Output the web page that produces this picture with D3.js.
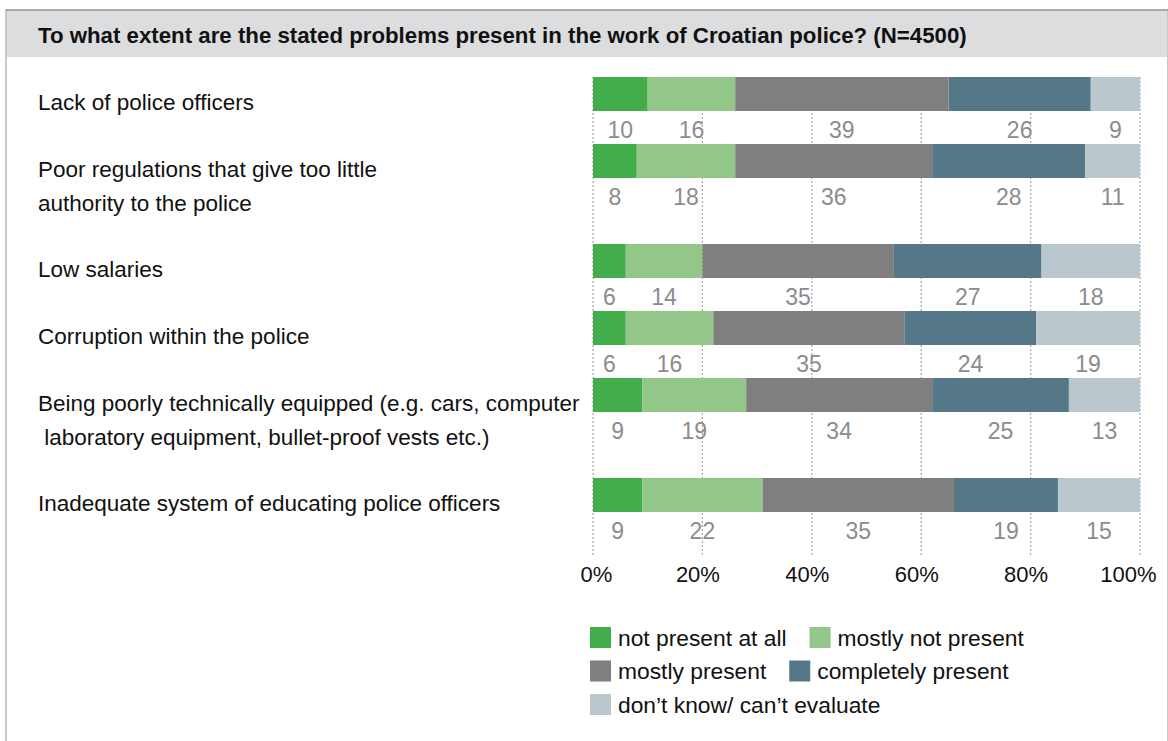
<!DOCTYPE html>
<html><head><meta charset="utf-8">
<script src="https://cdn.jsdelivr.net/npm/d3@7"></script>
<style>
html,body{margin:0;padding:0;background:#fff;}
svg{display:block;font-family:"Liberation Sans",Arial,sans-serif;}
</style></head>
<body>
<svg id="chart" width="1168" height="741"></svg>
<script>
const title = "To what extent are the stated problems present in the work of Croatian police? (N=4500)";
const categories = [
  ["Lack of police officers"],
  ["Poor regulations that give too little", "authority to the police"],
  ["Low salaries"],
  ["Corruption within the police"],
  ["Being poorly technically equipped (e.g. cars, computer", " laboratory equipment, bullet-proof vests etc.)"],
  ["Inadequate system of educating police officers"]
];
const seriesNames = ["not present at all", "mostly not present", "mostly present", "completely present", "don\u2019t know/ can\u2019t evaluate"];
const notPresentAtAll = [10, 8, 6, 6, 9, 9];
const mostlyNotPresent = [16, 18, 14, 16, 19, 22];
const mostlyPresent = [39, 36, 35, 35, 34, 35];
const completelyPresent = [26, 28, 27, 24, 25, 19];
const dontKnow = [9, 11, 18, 19, 13, 15];
const tickValues = [0, 20, 40, 60, 80, 100];
const colors = ["#42ad4a", "#93c689", "#7f7f7f", "#547887", "#bac8cd"];

const series = [notPresentAtAll, mostlyNotPresent, mostlyPresent, completelyPresent, dontKnow];
const rows = categories.map((c, i) => {
  const r = {idx: i};
  seriesNames.forEach((s, j) => r[s] = series[j][i]);
  return r;
});
const stacked = d3.stack().keys(seriesNames)(rows);

const svg = d3.select("#chart");

// frame
svg.append("rect").attr("x", 6).attr("y", 10).attr("width", 1162).attr("height", 760)
  .attr("fill", "#fff").attr("stroke", "#c8c8c8").attr("stroke-width", 2);
svg.append("rect").attr("x", 7).attr("y", 11).attr("width", 1160).attr("height", 46).attr("fill", "#dcdddf");
svg.append("line").attr("x1", 6).attr("x2", 1168).attr("y1", 10).attr("y2", 10).attr("stroke", "#a8a8a8").attr("stroke-width", 2);

const t = svg.append("text").attr("x", 38).attr("y", 43).attr("font-weight", "bold")
  .attr("font-size", 18).attr("fill", "#111").text(title);
(function(){ const w = t.node().getComputedTextLength(); t.attr("font-size", 18 * 929 / w); })();

const x = d3.scaleLinear().domain([0, 100]).range([593, 1140]);

// row offsets derived from number of label lines
const rowTop = [];
let acc = 77;
categories.forEach((c, i) => { rowTop.push(acc); acc += 67 + 33 * (c.length - 1); });
const barH = 34;

// gridlines
svg.append("g").selectAll("line").data(tickValues).join("line")
  .attr("x1", d => x(d)).attr("x2", d => x(d)).attr("y1", 77).attr("y2", 557)
  .attr("stroke", "#a6a6a6").attr("stroke-width", 1.2).attr("stroke-dasharray", "2,2");

// bars
svg.append("g").selectAll("g").data(stacked).join("g").attr("fill", (d, i) => colors[i])
  .selectAll("rect").data(d => d).join("rect")
  .attr("x", d => x(d[0])).attr("width", d => Math.min(x(d[1]), x(100)) - x(d[0]))
  .attr("y", (d, i) => rowTop[i]).attr("height", barH);

// value labels
svg.append("g").selectAll("g").data(stacked).join("g")
  .selectAll("text").data(d => d.map(v => ({v, key: d.key}))).join("text")
  .attr("x", d => x((d.v[0] + Math.min(d.v[1], 100)) / 2))
  .attr("y", (d, i) => rowTop[i] + 61)
  .attr("text-anchor", "middle").attr("font-size", 23).attr("fill", "#8c8c8c")
  .text(d => d.v.data[d.key]);

// category labels
const cat = svg.append("g").selectAll("text").data(categories).join("text")
  .attr("x", 38).attr("y", (d, i) => rowTop[i] + 33)
  .attr("font-size", 22.5).attr("fill", "#111").style("white-space", "pre");
cat.selectAll("tspan").data(d => d).join("tspan")
  .attr("x", 38).attr("dy", (d, i) => i === 0 ? 0 : 34).text(d => d);

// axis
const axis = d3.axisBottom(x).tickValues(tickValues).tickFormat(d => d + "%").tickSize(0).tickPadding(0);
const ag = svg.append("g").attr("transform", "translate(0,566)").call(axis);
ag.select(".domain").remove();
ag.selectAll("text").attr("font-size", 22).attr("fill", "#111").attr("font-family", "Liberation Sans, Arial, sans-serif")
  .attr("dx", d => d === 0 ? 3 : d === 100 ? -12 : -5);

// legend flow layout
const lg = svg.append("g");
let lx = 590, ly = 627; const maxX = 1060, sq = 21, rowStep = 33.5;
seriesNames.forEach((name, i) => {
  const g = lg.append("g");
  g.append("rect").attr("width", sq).attr("height", sq).attr("fill", colors[i]);
  const tx = g.append("text").attr("x", sq + 7).attr("y", sq / 2 + 8).attr("font-size", 22.8).attr("fill", "#111").text(name);
  const w = sq + 7 + tx.node().getComputedTextLength();
  if (lx + w > maxX && lx > 590) { lx = 590; ly += rowStep; }
  g.attr("transform", `translate(${lx},${ly})`);
  lx += w + 23;
});
</script>
</body></html>
